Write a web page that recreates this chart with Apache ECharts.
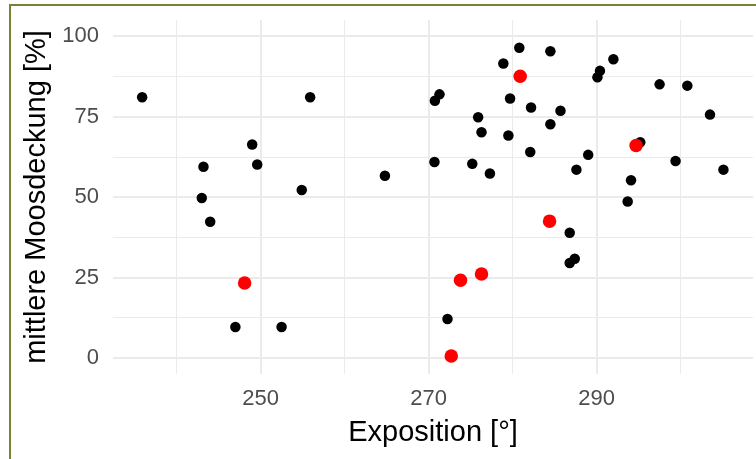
<!DOCTYPE html>
<html>
<head>
<meta charset="utf-8">
<script src="https://cdn.jsdelivr.net/npm/echarts@6/dist/echarts.min.js"></script>
<style>html,body{margin:0;padding:0;background:#fff;}#c{width:756px;height:459px;}</style>
</head>
<body>
<div id="c"></div>
<script>
// Data
const xTicksMajor = [250, 270, 290];
const xTicksMinor = [240, 260, 280, 300];
const yTicksMajor = [0, 25, 50, 75, 100];
const yTicksMinor = [12.5, 37.5, 62.5, 87.5];

const blackX = [235.9, 255.9, 249.0, 249.6, 243.2, 254.9, 243.0, 244.0, 247.0, 252.5,
  280.8, 278.9, 271.3, 270.75, 279.7, 282.2, 275.9, 276.3, 279.5, 282.1,
  270.7, 275.2, 264.8, 277.3, 284.5, 292.0, 290.4, 290.1, 297.5, 300.8,
  285.7, 284.5, 303.5, 295.2, 289.0, 287.6, 299.4, 305.1, 294.1, 293.7,
  286.8, 287.4, 286.8, 272.25];
const blackY = [81.0, 81.0, 66.3, 60.1, 59.4, 52.2, 49.7, 42.3, 9.6, 9.6,
  96.4, 91.5, 81.9, 79.9, 80.6, 77.8, 74.8, 70.1, 69.1, 64.0,
  60.9, 60.3, 56.6, 57.3, 95.3, 92.8, 89.2, 87.2, 85.0, 84.6,
  76.8, 72.6, 75.6, 67.0, 63.1, 58.5, 61.2, 58.5, 55.2, 48.6,
  38.9, 30.8, 29.5, 12.1];
const redX = [248.1, 280.9, 294.7, 284.4, 276.3, 273.8, 272.7];
const redY = [23.3, 87.5, 66.0, 42.5, 26.1, 24.1, 0.6];

const xTitle = 'Exposition [°]';
const yTitle = 'mittlere Moosdeckung [%]';

const pair = (xs, ys) => xs.map((x, i) => [x, ys[i]]);
const gridColor = '#EBEBEB';
const lines = [];
xTicksMajor.forEach(v => lines.push({xAxis: v, lineStyle: {width: 2, color: gridColor, type: 'solid'}}));
xTicksMinor.forEach(v => lines.push({xAxis: v, lineStyle: {width: 1, color: gridColor, type: 'solid'}}));
yTicksMajor.forEach(v => lines.push({yAxis: v, lineStyle: {width: 2, color: gridColor, type: 'solid'}}));
yTicksMinor.forEach(v => lines.push({yAxis: v, lineStyle: {width: 1, color: gridColor, type: 'solid'}}));

const chart = echarts.init(document.getElementById('c'), null, {renderer: 'canvas'});
chart.setOption({
  backgroundColor: '#ffffff',
  animation: false,
  textStyle: {fontFamily: 'Liberation Sans, Arial, sans-serif'},
  graphic: [{
    type: 'rect', silent: true, z: 0,
    shape: {x: 10, y: 5, width: 800, height: 500},
    style: {fill: 'none', stroke: '#7B8234', lineWidth: 2}
  }],
  grid: {left: 113, top: 20, width: 640, height: 354},
  xAxis: {
    type: 'value', min: 232.43, max: 308.62,
    axisLine: {show: false}, axisTick: {show: false}, splitLine: {show: false},
    axisLabel: {customValues: xTicksMajor, color: '#4D4D4D', fontSize: 22, margin: 14,
      fontFamily: 'Liberation Sans'},
    name: xTitle, nameLocation: 'middle', nameGap: 44,
    nameTextStyle: {color: '#000', fontSize: 29, fontFamily: 'Liberation Sans'}
  },
  yAxis: {
    type: 'value', min: -5, max: 105,
    axisLine: {show: false}, axisTick: {show: false}, splitLine: {show: false},
    axisLabel: {customValues: yTicksMajor, color: '#4D4D4D', fontSize: 22, margin: 14,
      fontFamily: 'Liberation Sans'},
    name: yTitle, nameLocation: 'middle', nameGap: 62,
    nameTextStyle: {color: '#000', fontSize: 29, fontFamily: 'Liberation Sans'}
  },
  series: [
    {
      type: 'scatter', data: [], z: 1, silent: true,
      markLine: {silent: true, z: 1, symbol: 'none', label: {show: false}, animation: false, data: lines}
    },
    {
      type: 'scatter', data: pair(blackX, blackY), symbolSize: 10.5, z: 3,
      itemStyle: {color: '#000000', opacity: 1}
    },
    {
      type: 'scatter', data: pair(redX, redY), symbolSize: 13.5, z: 4,
      itemStyle: {color: '#FF0000', opacity: 1}
    }
  ]
});
</script>
</body>
</html>
